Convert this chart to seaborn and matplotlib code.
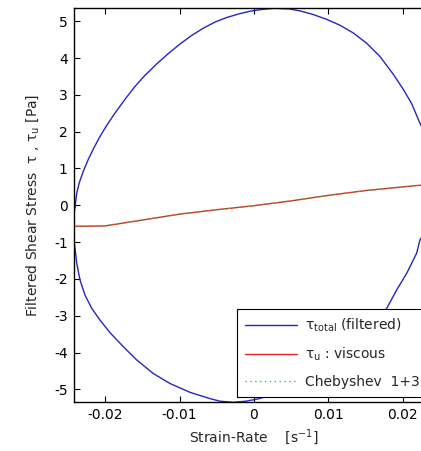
import matplotlib
matplotlib.use("Agg")
import matplotlib.pyplot as plt
import seaborn as sns
import pandas as pd

# Blue loop: total filtered shear stress vs strain rate (traced clockwise)
loop_strain = [-0.02406, -0.02383, -0.02348, -0.02294, -0.02227, -0.02160, -0.02070, -0.01980,
               -0.01891, -0.01845, -0.01734, -0.01599, -0.01465, -0.01308, -0.01152, -0.00995,
               -0.00840, -0.00681, -0.00520, -0.00367, -0.00200, -0.00054, 0.00110, 0.00280,
               0.00480, 0.00618, 0.00797, 0.00977, 0.01156, 0.01335, 0.01515, 0.01694,
               0.01872, 0.02007, 0.02120, 0.02231, 0.02340, 0.02400, 0.02440, 0.02400,
               0.02360, 0.02231, 0.02187, 0.02052, 0.01918, 0.01784, 0.01599, 0.01465,
               0.01308, 0.01152, 0.00995, 0.00681, 0.00367, 0.00215, 0.00050, -0.00110,
               -0.00280, -0.00457, -0.00591, -0.00860, -0.01129, -0.01353, -0.01577, -0.01757,
               -0.01935, -0.02070, -0.02181, -0.02272, -0.02339, -0.02383, -0.02406, -0.02450,
               -0.02406]
loop_stress = [-0.04, 0.33, 0.62, 0.93, 1.25, 1.53, 1.87, 2.17,
               2.44, 2.57, 2.88, 3.23, 3.53, 3.84, 4.12, 4.38,
               4.61, 4.81, 4.98, 5.10, 5.20, 5.27, 5.32, 5.35,
               5.33, 5.28, 5.18, 5.05, 4.89, 4.68, 4.40, 4.04,
               3.56, 3.15, 2.76, 2.23, 1.80, 1.17, 0.60, 0.04,
               -0.50, -0.94, -1.30, -1.85, -2.30, -2.80, -3.23, -3.53,
               -3.84, -4.12, -4.38, -4.80, -5.06, -5.17, -5.26, -5.32,
               -5.35, -5.32, -5.25, -5.08, -4.84, -4.57, -4.20, -3.84,
               -3.46, -3.12, -2.80, -2.44, -2.03, -1.58, -1.17, -0.60,
               -0.04]

# Red: viscous stress
visc_strain = [-0.0242, -0.020, -0.015, -0.010, -0.005, 0.0, 0.005, 0.010, 0.015, 0.020, 0.0242]
visc_stress = [-0.57, -0.56, -0.40, -0.24, -0.12, -0.01, 0.12, 0.27, 0.40, 0.50, 0.58]

# Green dotted: Chebyshev 1+3 fit (overlaps viscous)
cheb_strain = [-0.0242, -0.020, -0.015, -0.010, -0.005, 0.0, 0.005, 0.010, 0.015, 0.020, 0.0242]
cheb_stress = [-0.57, -0.55, -0.40, -0.24, -0.12, -0.01, 0.12, 0.27, 0.40, 0.50, 0.58]

x_ticks = [-0.02, -0.01, 0.0, 0.01, 0.02]
x_tick_labels = ["-0.02", "-0.01", "0", "0.01", "0.02"]
y_ticks = [-5, -4, -3, -2, -1, 0, 1, 2, 3, 4, 5]
y_tick_labels = ["-5", "-4", "-3", "-2", "-1", "0", "1", "2", "3", "4", "5"]

labels = [r"τ$_{\rm total}$ (filtered)", r"τ$_{\rm u}$ : viscous", "Chebyshev  1+3"]

sns.set_style("ticks")
plt.rcParams["font.family"] = ["DejaVu Sans"]
plt.rcParams["mathtext.fontset"] = "dejavusans"

fig = plt.figure(figsize=(4.21, 4.51), dpi=100)
fig.patch.set_facecolor("white")
ax = fig.add_axes([74 / 421, (451 - 402.3) / 451, (434 - 74) / 421, (402.3 - 8.3) / 451])

loop_df = pd.DataFrame({"strain": loop_strain, "stress": loop_stress})
visc_df = pd.DataFrame({"strain": visc_strain, "stress": visc_stress})
cheb_df = pd.DataFrame({"strain": cheb_strain, "stress": cheb_stress})

sns.lineplot(data=loop_df, x="strain", y="stress", sort=False, estimator=None,
             color="#2626c0", linewidth=1.0, ax=ax, label=labels[0])
sns.lineplot(data=visc_df, x="strain", y="stress", sort=False, estimator=None,
             color="#e02424", linewidth=1.0, ax=ax, label=labels[1])
sns.lineplot(data=cheb_df, x="strain", y="stress", sort=False, estimator=None,
             color="#40c040", linewidth=1.0, linestyle=(0, (1, 2.5)), ax=ax, label=labels[2])

ax.set_xlim(-0.0242, 0.0242)
ax.set_ylim(-5.35, 5.35)
ax.set_xticks(x_ticks)
ax.set_xticklabels(x_tick_labels)
ax.set_yticks(y_ticks)
ax.set_yticklabels(y_tick_labels)
ax.tick_params(direction="in", length=4, width=0.8, labelsize=10, top=True, right=True,
               colors="black")
ax.tick_params(axis="x", pad=4)
ax.tick_params(axis="y", pad=4.5)
for s in ax.spines.values():
    s.set_visible(True)
    s.set_linewidth(1.0)
    s.set_color("black")

ax.set_xlabel(r"Strain-Rate    [s$^{-1}$]", fontsize=10, labelpad=3.5)
ax.set_ylabel(r"Filtered Shear Stress  τ , τ$_{\rm u}$ [Pa]", fontsize=10, labelpad=9.5)

leg = ax.legend(loc="lower left", bbox_to_anchor=((237.3 - 74) / 360, (402.3 - 396.7) / 394),
                borderaxespad=0, fontsize=10, handlelength=3.75, handletextpad=0.6,
                labelspacing=0.85, borderpad=0.55,
                frameon=True, fancybox=False, edgecolor="black", framealpha=1)
leg.get_frame().set_linewidth(0.8)

fig.savefig("out.png", dpi=100, facecolor="white")
